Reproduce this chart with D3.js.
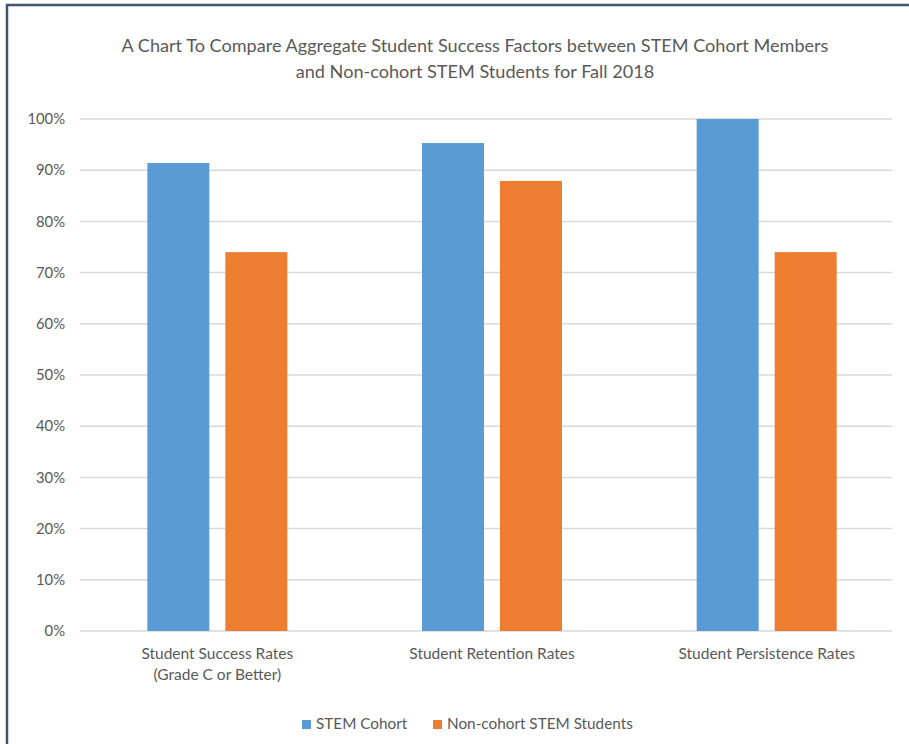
<!DOCTYPE html>
<html>
<head>
<meta charset="utf-8">
<script src="https://cdn.jsdelivr.net/npm/d3@7"></script>
<style>
  html, body { margin: 0; padding: 0; background: #fff; }
  svg text { font-family: Lato, "Open Sans", sans-serif; fill: #595959; }
</style>
</head>
<body>
<svg id="chart" width="909" height="744"></svg>
<script>
// Chart data
const categories = [
    ['Student Success Rates', '(Grade C or Better)'],
    ['Student Retention Rates'],
    ['Student Persistence Rates']
];
const seriesNames = ['STEM Cohort', 'Non-cohort STEM Students'];
const stemCohort = [91.4, 95.3, 100];
const nonCohort = [74.0, 87.9, 74.0];
const yTicks = [0, 10, 20, 30, 40, 50, 60, 70, 80, 90, 100];
const titleLines = [
    'A Chart To Compare Aggregate Student Success Factors between STEM Cohort Members',
    'and Non-cohort STEM Students for Fall 2018'
];

const colors = ['#5b9bd5', '#ed7d31'];
const svg = d3.select('#chart');

// Frame (only top and left edges are visible in the crop)
svg.append('path')
    .attr('d', 'M7,909 L7,5 L909,5')
    .attr('fill', 'none')
    .attr('stroke', '#44546a')
    .attr('stroke-width', 2.5);

// Title
svg.append('text')
    .attr('text-anchor', 'middle')
    .attr('font-size', 18.1)
    .selectAll('tspan')
    .data(titleLines)
    .enter()
    .append('tspan')
    .attr('x', 475)
    .attr('y', (d, i) => 52 + i * 26)
    .text(d => d);

const plot = { left: 80, right: 904, top: 119, bottom: 631 };

const x = d3.scaleBand()
    .domain(d3.range(categories.length))
    .range([plot.left, plot.right]);

const y = d3.scaleLinear()
    .domain([0, 100])
    .range([plot.bottom, plot.top]);

// Gridlines
svg.append('g')
    .selectAll('line')
    .data(yTicks)
    .enter()
    .append('line')
    .attr('x1', plot.left)
    .attr('x2', plot.right - 12)
    .attr('y1', d => y(d))
    .attr('y2', d => y(d))
    .attr('stroke', '#d9d9d9')
    .attr('stroke-width', 1.5);

// Y axis labels
svg.append('g')
    .selectAll('text')
    .data(yTicks)
    .enter()
    .append('text')
    .attr('x', 65)
    .attr('y', d => y(d))
    .attr('dy', '0.35em')
    .attr('text-anchor', 'end')
    .attr('font-size', 14.8)
    .text(d => d3.format('.0%')(d / 100));

// Bars
const barW = 62, gap = 16;
const series = [stemCohort, nonCohort];
series.forEach((vals, s) => {
    svg.append('g')
        .selectAll('rect')
        .data(vals)
        .enter()
        .append('rect')
        .attr('x', (d, i) => x(i) + x.bandwidth() / 2 - (barW + gap / 2) + s * (barW + gap))
        .attr('y', d => y(d))
        .attr('width', barW)
        .attr('height', d => y(0) - y(d))
        .attr('fill', colors[s]);
});

// Category labels
svg.append('g')
    .selectAll('text')
    .data(categories)
    .enter()
    .append('text')
    .attr('text-anchor', 'middle')
    .attr('font-size', 15.5)
    .each(function(lines, i) {
        d3.select(this).selectAll('tspan')
            .data(lines)
            .enter()
            .append('tspan')
            .attr('x', x(i) + x.bandwidth() / 2)
            .attr('y', (d, j) => 659 + j * 21)
            .text(d => d);
    });

// Legend
const legendItems = [
    { name: seriesNames[0], color: colors[0], x: 302 },
    { name: seriesNames[1], color: colors[1], x: 433 }
];
const legend = svg.append('g');
legendItems.forEach(item => {
    legend.append('rect')
        .attr('x', item.x)
        .attr('y', 720)
        .attr('width', 9)
        .attr('height', 9)
        .attr('fill', item.color);
    legend.append('text')
        .attr('x', item.x + 14)
        .attr('y', 729)
        .attr('font-size', 15.3)
        .text(item.name);
});
</script>
</body>
</html>
